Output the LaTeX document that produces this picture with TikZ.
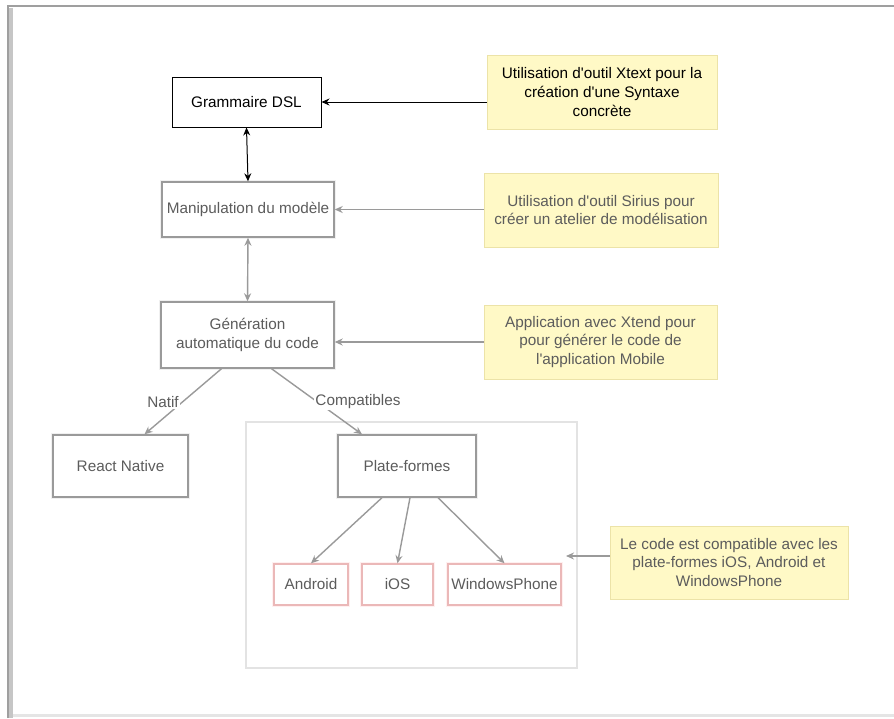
\documentclass[tikz,border=0pt]{standalone}
\usepackage{fontspec}
\setmainfont{Liberation Sans}
\usetikzlibrary{arrows.meta,calc}

\definecolor{noteFill}{HTML}{FFF9C6}
\definecolor{noteLine}{HTML}{ECE3A8}
\definecolor{softInk}{HTML}{5C5C5C}
\definecolor{softLine}{HTML}{9A9A9A}
\definecolor{pinkLine}{HTML}{EBB8B8}

\newcommand{\ap}{\textquotesingle}

\tikzset{
  txt/.style={font=\fontsize{15.3}{18.6}\selectfont},
  sharpbox/.style={txt, draw=black, line width=1, fill=white, inner sep=0, align=center},
  softbox/.style={txt, draw=softLine, line width=1.4, fill=white, text=softInk, inner sep=0, align=center,
    preaction={draw=gray!12, line width=4}},
  pinkbox/.style={softbox, draw=pinkLine, preaction={draw=red!6, line width=4}},
  note/.style={txt, draw=noteLine, line width=1, fill=noteFill, inner sep=0, align=center},
  softnote/.style={note, text=softInk},
  sharparrow/.style={draw=black, line width=1, -{Stealth[length=8,width=7]}},
  softarrow/.style={draw=softLine, line width=1.4, -{Stealth[length=8,width=7]}},
  softlabel/.style={txt, text=softInk, fill=white, inner sep=1}
}

\begin{document}
\begin{tikzpicture}[x=1pt,y=-1pt]
  \useasboundingbox (0,0) rectangle (894,718);
  \fill[white] (0,0) rectangle (894,718);

  % window frame
  \draw[gray!20, line width=3] (8,715) -- (894,715);
  \draw[gray!45, line width=5] (10,718) -- (10,8);
  \draw[gray!75, line width=2] (8,718) -- (8,6) -- (894,6);

  % platform group container
  \draw[gray!22, line width=1.5] (246,422) rectangle (577,668);

  % nodes
  \node[sharpbox, minimum width=149, minimum height=50] (gram) at (246.5,102) {Grammaire DSL};
  \node[softbox, minimum width=172, minimum height=55] (manip) at (248,209.5) {Manipulation du modèle};
  \node[softbox, minimum width=173, minimum height=66] (gen) at (247.5,335) {Génération\\automatique du code};
  \node[softbox, minimum width=135, minimum height=62] (react) at (120.5,466) {React Native};
  \node[softbox, minimum width=138, minimum height=62] (plat) at (407,466) {Plate-formes};
  \node[pinkbox, minimum width=74, minimum height=41] (android) at (311,584.5) {Android};
  \node[pinkbox, minimum width=71, minimum height=41] (ios) at (397.5,584.5) {iOS};
  \node[pinkbox, minimum width=113, minimum height=41] (wp) at (504.5,584.5) {WindowsPhone};

  \node[note, minimum width=230, minimum height=74] (n1) at (602,92)
    {Utilisation d\ap outil Xtext pour la\\création d\ap une Syntaxe\\concrète};
  \node[softnote, minimum width=234, minimum height=74] (n2) at (601,210)
    {Utilisation d\ap outil Sirius pour\\créer un atelier de modélisation};
  \node[softnote, minimum width=233, minimum height=74] (n3) at (600.5,342)
    {Application avec Xtend pour\\pour générer le code de\\l\ap application Mobile};
  \node[softnote, minimum width=238, minimum height=73] (n4) at (729,562.5)
    {Le code est compatible avec les\\plate-formes iOS, Android et\\WindowsPhone};

  \coordinate (groupIn) at (566,556);

  % connectors
  \draw[sharparrow] (n1.west |- gram.east) -- (gram.east);
  \draw[sharparrow, <->, >={Stealth[length=8,width=7]}] (gram.south) -- (manip.north);
  \draw[softarrow] (n2.west |- manip.east) -- (manip.east);
  \draw[softarrow, <->, >={Stealth[length=8,width=7]}] (manip.south) -- (gen.north);
  \draw[softarrow] (n3.west) -- (gen.east |- n3.west);
  \draw[softarrow] ($(gen.south)+(-26,0)$) -- ($(react.north)+(24,0)$);
  \draw[softarrow] ($(gen.south)+(24,0)$) -- ($(plat.north)+(-45,0)$);
  \draw[softarrow] ($(plat.south)+(-25,0)$) -- (android.north);
  \draw[softarrow] ($(plat.south)+(3,0)$) -- (ios.north);
  \draw[softarrow] ($(plat.south)+(31,0)$) -- (wp.north);
  \draw[softarrow] (n4.west |- groupIn) -- (groupIn);

  % edge labels
  \node[softlabel] (natif) at (163,402) {Natif};
  \node[softlabel] (compat) at (358,402) {Compatibles};
\end{tikzpicture}
\end{document}
